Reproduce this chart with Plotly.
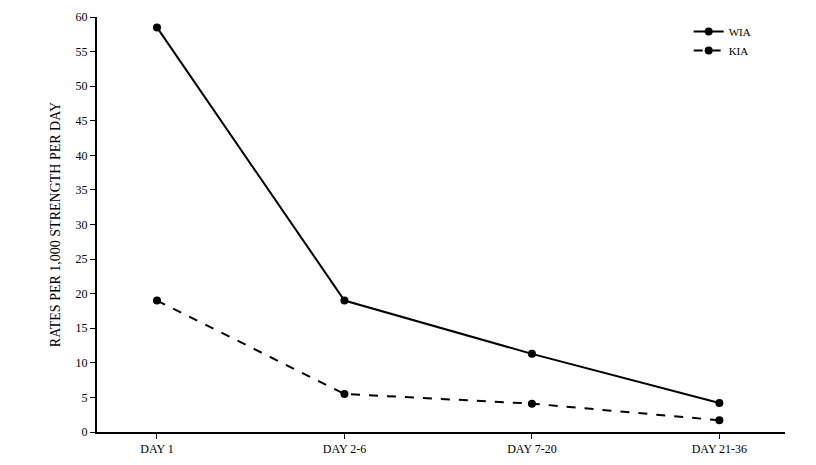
import plotly.graph_objects as go

categories = ["DAY 1", "DAY 2-6", "DAY 7-20", "DAY 21-36"]
wia = [58.5, 19.0, 11.3, 4.2]
kia = [19.0, 5.5, 4.1, 1.7]
y_ticks = [0, 5, 10, 15, 20, 25, 30, 35, 40, 45, 50, 55, 60]

x = list(range(len(categories)))

fig = go.Figure()
fig.add_trace(go.Scatter(
    x=x, y=wia, name="WIA", mode="lines+markers",
    line={"color": "black", "width": 2},
    marker={"color": "black", "size": 8},
))
fig.add_trace(go.Scatter(
    x=x, y=kia, name="KIA", mode="lines+markers",
    line={"color": "black", "width": 2, "dash": "dash"},
    marker={"color": "black", "size": 8},
))

fig.update_xaxes(
    range=[-0.32, 3.35], tickvals=x, ticktext=categories, automargin=False,
    showline=True, linecolor="black", linewidth=2,
    ticks="outside", ticklen=5, tickcolor="black", showgrid=False, zeroline=False,
)
fig.update_yaxes(
    range=[0, 60], tickvals=y_ticks, automargin=False,
    showline=True, linecolor="black", linewidth=2,
    ticks="outside", ticklen=5, tickcolor="black", showgrid=False, zeroline=False,
    title={"text": "RATES PER 1,000 STRENGTH PER DAY", "standoff": 12,
           "font": {"size": 14}},
)
fig.update_layout(
    width=816, height=465,
    margin={"l": 89, "r": 39, "t": 9, "b": 41},
    plot_bgcolor="white", paper_bgcolor="white",
    font={"family": "Liberation Serif", "size": 12, "color": "black"},
    legend={"x": 0.86, "y": 1.0, "xanchor": "left", "yanchor": "top",
            "bgcolor": "rgba(0,0,0,0)", "font": {"size": 11}},
)

fig.write_html("out.html")
